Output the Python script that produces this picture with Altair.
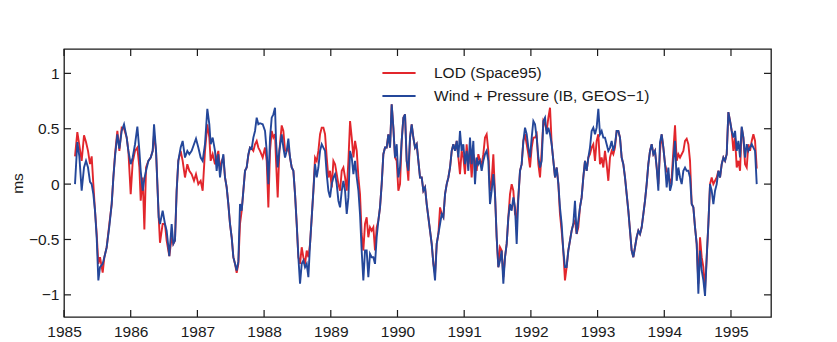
import altair as alt
import pandas as pd

years = [
    1985.165, 1985.200, 1985.230, 1985.265, 1985.300, 1985.330, 1985.360, 1985.390, 1985.415, 1985.440,
    1985.465, 1985.490, 1985.515, 1985.540, 1985.580, 1985.605, 1985.640, 1985.680, 1985.715, 1985.740,
    1985.765, 1985.800, 1985.830, 1985.865, 1985.900, 1985.940, 1985.965, 1986.000, 1986.030, 1986.065,
    1986.100, 1986.130, 1986.150, 1986.180, 1986.205, 1986.230, 1986.265, 1986.300, 1986.330, 1986.350,
    1986.380, 1986.400, 1986.420,
    1986.439, 1986.479, 1986.514, 1986.539, 1986.579, 1986.614, 1986.639, 1986.664, 1986.689, 1986.714,
    1986.749, 1986.779, 1986.814, 1986.849, 1986.879, 1986.914, 1986.949, 1986.979, 1987.014, 1987.049,
    1987.079, 1987.114, 1987.149, 1987.179, 1987.199, 1987.229, 1987.264, 1987.289, 1987.314, 1987.339,
    1987.364, 1987.389, 1987.414, 1987.439, 1987.464, 1987.489, 1987.514, 1987.539, 1987.564, 1987.589,
    1987.614, 1987.639, 1987.664, 1987.689, 1987.714, 1987.739, 1987.764, 1987.789, 1987.814, 1987.839,
    1987.864, 1987.889, 1987.914,
    1987.939, 1987.979, 1988.014, 1988.039, 1988.064, 1988.089, 1988.114, 1988.139, 1988.164, 1988.179,
    1988.204, 1988.229, 1988.264, 1988.289, 1988.314, 1988.339, 1988.364, 1988.389, 1988.414, 1988.439,
    1988.464, 1988.489, 1988.514, 1988.539, 1988.564, 1988.589, 1988.614, 1988.639, 1988.664, 1988.689,
    1988.714, 1988.739, 1988.764, 1988.789, 1988.814, 1988.839, 1988.864, 1988.889, 1988.914, 1988.939,
    1988.964, 1988.989, 1989.014, 1989.039, 1989.064, 1989.089, 1989.114, 1989.139, 1989.164, 1989.189,
    1989.214, 1989.239, 1989.264, 1989.289, 1989.314, 1989.339, 1989.364, 1989.389, 1989.414,
    1989.438, 1989.463, 1989.488, 1989.513, 1989.538, 1989.563, 1989.588, 1989.613, 1989.638, 1989.663,
    1989.688, 1989.713, 1989.738, 1989.763, 1989.788, 1989.813, 1989.838, 1989.863, 1989.888, 1989.913,
    1989.938, 1989.963, 1989.988, 1990.013, 1990.038, 1990.063, 1990.088, 1990.113, 1990.138, 1990.163,
    1990.188, 1990.213, 1990.238, 1990.263, 1990.288, 1990.313, 1990.338, 1990.363, 1990.388, 1990.413,
    1990.438, 1990.463, 1990.488, 1990.513, 1990.538, 1990.563, 1990.588, 1990.613, 1990.638, 1990.663,
    1990.688, 1990.713, 1990.738, 1990.763, 1990.788, 1990.813, 1990.838, 1990.863, 1990.888, 1990.913,
    1990.937, 1990.962, 1990.987, 1991.012, 1991.037, 1991.062, 1991.087, 1991.112, 1991.137, 1991.162,
    1991.187, 1991.212, 1991.237, 1991.262, 1991.287, 1991.312, 1991.337, 1991.362, 1991.387, 1991.412,
    1991.437, 1991.462, 1991.487, 1991.512, 1991.537, 1991.562, 1991.587, 1991.612, 1991.637, 1991.662,
    1991.687, 1991.712, 1991.737, 1991.762, 1991.787, 1991.812, 1991.837, 1991.862, 1991.887, 1991.912,
    1991.937, 1991.962, 1991.987, 1992.012, 1992.037, 1992.062, 1992.087, 1992.112, 1992.137, 1992.162,
    1992.187, 1992.212, 1992.237, 1992.262, 1992.287, 1992.312, 1992.337, 1992.362, 1992.387, 1992.412,
    1992.436, 1992.461, 1992.486, 1992.511, 1992.536, 1992.561, 1992.586, 1992.611, 1992.636, 1992.661,
    1992.686, 1992.711, 1992.736, 1992.761, 1992.786, 1992.811, 1992.836, 1992.861, 1992.886, 1992.911,
    1992.936, 1992.961, 1992.986, 1993.011, 1993.036, 1993.061, 1993.086, 1993.111, 1993.136, 1993.161,
    1993.186, 1993.211, 1993.236, 1993.261, 1993.286, 1993.311, 1993.336, 1993.361, 1993.386, 1993.411,
    1993.436, 1993.461, 1993.486, 1993.511, 1993.536, 1993.561, 1993.586, 1993.611, 1993.636, 1993.661,
    1993.686, 1993.711, 1993.736, 1993.761, 1993.786, 1993.811, 1993.836, 1993.861, 1993.886, 1993.911,
    1993.936, 1993.961, 1993.986, 1994.011, 1994.036, 1994.061, 1994.086, 1994.111, 1994.136, 1994.161,
    1994.186, 1994.211, 1994.236, 1994.261, 1994.286, 1994.311, 1994.336, 1994.361, 1994.386, 1994.411,
    1994.436, 1994.461, 1994.486, 1994.511, 1994.536, 1994.561, 1994.586, 1994.611, 1994.636, 1994.661,
    1994.686, 1994.711, 1994.736, 1994.761, 1994.786, 1994.811, 1994.836, 1994.861, 1994.886, 1994.911,
    1994.936, 1994.961, 1994.986, 1995.011, 1995.036, 1995.061, 1995.086, 1995.111, 1995.136, 1995.161,
    1995.186, 1995.211, 1995.236, 1995.261, 1995.286, 1995.311, 1995.336, 1995.361, 1995.386,
]

lod = [
    0.25, 0.47, 0.35, 0.21, 0.44, 0.38, 0.30, 0.18, 0.25, 0.00,
    -0.24, -0.45, -0.72, -0.66, -0.80, -0.66, -0.57, -0.36, -0.18, 0.06,
    0.27, 0.48, 0.30, 0.51, 0.50, 0.42, 0.30, -0.09, 0.20, 0.30,
    0.33, 0.15, -0.15, 0.06, -0.41, 0.15, 0.21, 0.24, 0.30, 0.45,
    0.30, 0.00, -0.30,
    -0.53, -0.36, -0.36, -0.51, -0.65, -0.48, -0.54, -0.51, -0.06, 0.21,
    0.30, 0.21, 0.06, 0.18, 0.12, 0.09, 0.03, 0.09, 0.00, 0.03,
    -0.06, 0.30, 0.54, 0.42, 0.21, 0.27, 0.18, 0.24, 0.30, 0.12,
    0.21, 0.24, 0.06, -0.03, -0.18, -0.36, -0.48, -0.66, -0.72, -0.80,
    -0.72, -0.36, -0.24, -0.06, 0.12, 0.15, 0.26, 0.33, 0.32, 0.30,
    0.36, 0.39, 0.33,
    0.30, 0.24, 0.33, 0.21, -0.21, 0.30, 0.48, 0.42, 0.45, 0.21,
    -0.12, 0.30, 0.53, 0.48, 0.30, 0.30, 0.33, 0.24, 0.15, 0.12,
    -0.09, -0.36, -0.66, -0.72, -0.57, -0.66, -0.72, -0.60, -0.66, -0.54,
    -0.30, -0.06, 0.24, 0.21, 0.30, 0.45, 0.51, 0.51, 0.45, 0.24,
    0.06, 0.12, -0.03, 0.21, 0.18, 0.09, 0.00, -0.06, 0.12, 0.15,
    0.06, -0.06, 0.21, 0.57, 0.42, 0.24, 0.39, 0.30, 0.06,
    -0.09, -0.45, -0.60, -0.36, -0.30, -0.48, -0.39, -0.42, -0.39, -0.60,
    -0.39, -0.33, -0.21, 0.00, 0.27, 0.33, 0.33, 0.45, 0.33, 0.72,
    0.51, 0.24, 0.21, -0.06, 0.00, 0.39, 0.60, 0.63, 0.21, 0.03,
    0.42, 0.54, 0.42, 0.33, 0.36, 0.21, 0.06, 0.06, -0.06, -0.03,
    -0.18, -0.30, -0.42, -0.54, -0.72, -0.81, -0.54, -0.45, -0.21, -0.27,
    -0.30, -0.09, 0.00, 0.06, 0.15, 0.30, 0.36, 0.30, 0.39, 0.24,
    0.09, 0.30, 0.24, 0.09, 0.36, 0.18, 0.30, 0.06, 0.27, 0.21,
    0.12, 0.27, 0.21, 0.18, 0.27, 0.42, 0.45, 0.30, -0.06, 0.03,
    0.27, -0.09, -0.48, -0.75, -0.57, -0.60, -0.84, -0.66, -0.54, -0.30,
    -0.09, 0.00, -0.06, -0.27, -0.30, -0.12, 0.12, 0.18, 0.39, 0.45,
    0.36, 0.27, 0.15, 0.33, 0.42, 0.42, 0.45, 0.18, 0.06, 0.30,
    0.57, 0.54, 0.48, 0.60, 0.69, 0.36, 0.21, 0.06, 0.15, 0.00,
    -0.27, -0.42, -0.60, -0.87, -0.75, -0.60, -0.51, -0.42, -0.36, -0.33,
    -0.45, -0.39, -0.21, -0.12, 0.06, 0.21, 0.12, 0.24, 0.27, 0.33,
    0.36, 0.21, 0.39, 0.45, 0.18, 0.24, 0.15, 0.30, 0.18, 0.03,
    0.24, 0.30, 0.27, 0.33, 0.48, 0.48, 0.42, 0.24, 0.18, 0.06,
    -0.09, -0.24, -0.42, -0.60, -0.66, -0.57, -0.48, -0.42, -0.45, -0.39,
    -0.27, -0.15, 0.00, 0.18, 0.30, 0.36, 0.27, 0.30, 0.15, 0.00,
    0.30, 0.45, 0.33, 0.18, 0.12, 0.09, 0.00, 0.06, 0.30, 0.53,
    0.21, 0.27, 0.24, 0.27, 0.30, 0.39, 0.41, 0.36, 0.21, -0.18,
    -0.21, -0.39, -0.54, -0.90, -0.48, -0.66, -0.75, -0.95, -0.66, -0.36,
    0.00, 0.06, 0.00, 0.03, 0.06, 0.12, 0.06, 0.18, 0.24, 0.21,
    0.27, 0.65, 0.57, 0.48, 0.30, 0.42, 0.15, 0.21, 0.12, 0.51,
    0.42, 0.18, 0.15, 0.36, 0.30, 0.39, 0.45, 0.39, 0.14,
]

wind = [
    0.00, 0.38, 0.25, -0.06, 0.15, 0.21, 0.15, 0.02, 0.00, -0.09,
    -0.24, -0.48, -0.87, -0.75, -0.72, -0.66, -0.57, -0.38, -0.18, 0.06,
    0.25, 0.45, 0.32, 0.48, 0.54, 0.42, 0.30, 0.18, 0.24, 0.36,
    0.52, 0.30, 0.12, -0.06, 0.05, 0.12, 0.21, 0.24, 0.30, 0.54,
    0.30, 0.00, -0.30,
    -0.36, -0.24, -0.36, -0.42, -0.65, -0.36, -0.54, -0.51, -0.06, 0.21,
    0.33, 0.39, 0.24, 0.30, 0.27, 0.30, 0.36, 0.41, 0.33, 0.24,
    0.21, 0.36, 0.68, 0.54, 0.36, 0.42, 0.30, 0.12, 0.27, 0.06,
    0.18, 0.27, 0.06, -0.03, -0.18, -0.36, -0.48, -0.66, -0.72, -0.78,
    -0.70, -0.18, -0.24, -0.06, 0.12, 0.15, 0.27, 0.33, 0.32, 0.42,
    0.48, 0.60, 0.54,
    0.55, 0.54, 0.48, 0.30, 0.00, 0.42, 0.60, 0.63, 0.69, 0.39,
    0.15, 0.30, 0.45, 0.33, 0.24, 0.30, 0.41, 0.24, 0.15, 0.12,
    -0.09, -0.36, -0.66, -0.90, -0.72, -0.69, -0.75, -0.72, -0.84, -0.54,
    -0.30, -0.06, 0.18, 0.06, 0.15, 0.30, 0.36, 0.33, 0.30, 0.09,
    -0.06, -0.12, 0.00, 0.06, 0.09, 0.00, -0.15, -0.21, -0.06, 0.03,
    -0.06, -0.27, -0.12, 0.30, 0.24, 0.09, 0.21, 0.06, -0.06,
    -0.27, -0.60, -0.87, -0.60, -0.60, -0.84, -0.63, -0.66, -0.66, -0.72,
    -0.48, -0.33, -0.21, 0.00, 0.27, 0.33, 0.33, 0.45, 0.33, 0.72,
    0.51, 0.24, 0.36, 0.06, 0.15, 0.39, 0.60, 0.63, 0.21, 0.12,
    0.42, 0.54, 0.42, 0.33, 0.36, 0.21, 0.06, 0.06, -0.06, -0.03,
    -0.18, -0.30, -0.42, -0.54, -0.72, -0.87, -0.54, -0.45, -0.36, -0.27,
    -0.30, -0.09, 0.00, 0.06, 0.15, 0.30, 0.36, 0.30, 0.39, 0.24,
    0.48, 0.30, 0.36, 0.18, 0.30, 0.12, 0.42, 0.18, 0.39, 0.00,
    0.24, 0.18, 0.21, 0.12, 0.21, 0.27, 0.30, 0.21, -0.18, -0.06,
    0.09, -0.09, -0.48, -0.75, -0.69, -0.60, -0.90, -0.66, -0.54, -0.30,
    -0.18, -0.24, -0.12, -0.21, -0.54, -0.12, 0.12, 0.18, 0.39, 0.51,
    0.45, 0.33, 0.24, 0.42, 0.57, 0.54, 0.42, 0.24, 0.15, 0.21,
    0.57, 0.60, 0.45, 0.51, 0.45, 0.36, 0.21, 0.06, 0.15, 0.00,
    -0.21, -0.36, -0.60, -0.75, -0.75, -0.60, -0.51, -0.42, -0.36, -0.15,
    -0.45, -0.33, -0.21, -0.12, 0.06, 0.21, 0.12, 0.24, 0.33, 0.48,
    0.51, 0.45, 0.51, 0.68, 0.45, 0.48, 0.42, 0.42, 0.36, 0.30,
    0.33, 0.39, 0.30, 0.36, 0.48, 0.48, 0.42, 0.24, 0.18, 0.06,
    -0.09, -0.24, -0.42, -0.60, -0.66, -0.57, -0.48, -0.42, -0.45, -0.39,
    -0.27, -0.15, 0.00, 0.18, 0.30, 0.36, 0.27, 0.30, 0.15, -0.06,
    0.38, 0.45, 0.33, 0.18, -0.03, 0.15, -0.06, 0.00, 0.21, 0.39,
    0.03, 0.15, 0.06, 0.00, 0.12, 0.15, 0.12, 0.12, 0.06, -0.18,
    -0.21, -0.39, -0.54, -0.99, -0.60, -0.78, -0.87, -1.01, -0.66, -0.36,
    0.00, -0.06, -0.18, -0.06, 0.00, 0.12, 0.06, 0.18, 0.24, 0.21,
    0.27, 0.65, 0.57, 0.48, 0.42, 0.48, 0.30, 0.39, 0.24, 0.52,
    0.42, 0.24, 0.36, 0.30, 0.33, 0.36, 0.33, 0.30, 0.00,
]

x_ticks = [1985, 1986, 1987, 1988, 1989, 1990, 1991, 1992, 1993, 1994, 1995]
y_ticks = [-1, -0.5, 0, 0.5, 1]

LOD = "LOD (Space95)"
WIND = "Wind + Pressure (IB, GEOS\u22121)"
RED = "#e2262c"
BLUE = "#24479a"
FONT = "Liberation Sans"
TXT = "#1a1a1a"

n = len(years)
df = pd.DataFrame({
    "year": years + years,
    "ms": lod + wind,
    "series": [LOD] * n + [WIND] * n,
})
xt = pd.DataFrame({"year": x_ticks})
yt = pd.DataFrame({"ms": y_ticks})

W, H = 707, 268
TL = 7
xscale = alt.Scale(domain=[1985, 1995.6], nice=False, zero=False)
yscale = alt.Scale(domain=[-1.2, 1.22], nice=False, zero=False)

x_axis = alt.Axis(values=x_ticks, format="d", ticks=False, domain=False,
                  grid=False, labelPadding=7, labelFontSize=15.5,
                  labelFont=FONT, labelColor=TXT, title=None, labelFlush=False)
y_axis = alt.Axis(values=y_ticks, format="~g",
                  labelExpr="replace(datum.label, '-', '\u2212')",
                  ticks=False, domain=False, grid=False, labelPadding=5,
                  labelFontSize=15.5, labelFont=FONT, labelColor=TXT,
                  title="ms", titleFont=FONT, titleFontSize=15.5,
                  titleFontWeight="normal", titleColor=TXT,
                  titleX=-47, titleY=H / 2, titleBaseline="middle")

lines = alt.Chart(df).mark_line(strokeWidth=1.9).encode(
    x=alt.X("year:Q", scale=xscale, axis=x_axis),
    y=alt.Y("ms:Q", scale=yscale, axis=y_axis),
    color=alt.Color("series:N",
                    scale=alt.Scale(domain=[LOD, WIND], range=[RED, BLUE]),
                    legend=alt.Legend(title=None, orient="none", legendX=317, legendY=16,
                                      symbolType="stroke", symbolSize=1100,
                                      symbolStrokeWidth=2, labelFontSize=15.5,
                                      labelFont=FONT, labelColor=TXT,
                                      labelOffset=17, clipHeight=16, rowPadding=6,
                                      padding=0, labelLimit=400)),
)

tick_style = dict(color=TXT, strokeWidth=1.2)
top_ticks = alt.Chart(xt).mark_rule(**tick_style).encode(
    x=alt.X("year:Q", scale=xscale, axis=x_axis), y=alt.value(0), y2=alt.value(TL))
bottom_ticks = alt.Chart(xt).mark_rule(**tick_style).encode(
    x=alt.X("year:Q", scale=xscale, axis=x_axis), y=alt.value(H), y2=alt.value(H - TL))
left_ticks = alt.Chart(yt).mark_rule(**tick_style).encode(
    y=alt.Y("ms:Q", scale=yscale, axis=y_axis), x=alt.value(0), x2=alt.value(TL))
right_ticks = alt.Chart(yt).mark_rule(**tick_style).encode(
    y=alt.Y("ms:Q", scale=yscale, axis=y_axis), x=alt.value(W), x2=alt.value(W - TL))

chart = alt.layer(lines, top_ticks, bottom_ticks, left_ticks, right_ticks).properties(
    width=W, height=H,
    autosize=alt.AutoSizeParams(type="none"),
    padding={"left": 56, "top": 41, "right": 42, "bottom": 22},
    background="white",
).configure_view(stroke=TXT, strokeWidth=1.3)

chart.save("out.html", embed_options={"renderer": "svg", "actions": False})
